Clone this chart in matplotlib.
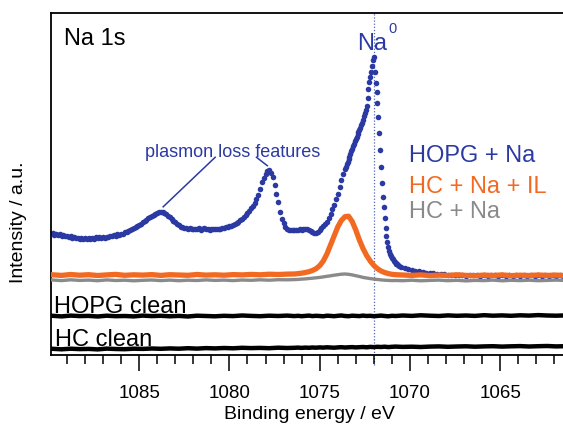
import numpy as np
import matplotlib.pyplot as plt
from matplotlib.ticker import MultipleLocator

plt.rcParams['font.family'] = ['Liberation Sans', 'DejaVu Sans']

# HOPG + Na: four stretches of the energy grid, (first eV, step eV, intensities)
blue_a_start, blue_a_step = 1089.8, 0.1
blue_a = [121.6, 120.4, 121.1, 119.8, 120.6, 119.2, 120.1, 118.7, 119.5, 118.2,
          118.9, 117.4, 118.3, 116.6, 117.5, 116.1, 117.0, 115.9, 116.8, 116.3,
          117.4, 116.2, 117.1, 116.5, 117.9, 116.7, 117.6, 116.9, 118.2, 117.3,
          118.4, 117.8, 119.2, 118.6, 119.7, 119.3, 120.6, 120.2, 121.3, 121.5,
          122.7, 123.2, 124.1, 125.0, 126.1]

blue_b_start, blue_b_step = 1085.3, 0.1
blue_b = [127.2, 128.0, 129.1, 130.0, 131.4, 132.6, 134.3, 135.2, 136.8, 137.9,
          139.0, 140.4, 141.2, 142.0, 142.9, 143.5, 143.1, 142.2, 141.0, 139.4,
          137.8, 136.0, 134.1, 132.6, 131.0, 129.6, 128.3, 127.6, 127.0, 126.8,
          126.5, 126.9, 126.0, 125.6, 126.4, 125.8, 126.6, 125.5, 126.0, 126.7,
          125.6, 126.2, 125.4, 126.3, 125.7, 126.5, 125.9, 126.2, 126.0, 126.8,
          127.2, 127.7, 128.4, 128.9, 129.4, 130.0, 131.2, 132.1, 133.4, 134.6,
          136.2, 138.0, 140.0, 142.0, 144.3, 146.6, 149.0, 152.5, 156.0, 160.0,
          166.5, 173.5, 177.5, 181.0, 184.0, 185.3, 182.5, 178.0, 170.0, 161.0,
          153.0, 142.7, 136.5, 132.0, 128.5, 126.2, 125.4, 125.0, 125.2, 124.6,
          125.4, 125.0, 125.8, 125.3, 126.1, 125.6, 126.0, 124.8, 123.6, 122.8,
          122.2, 122.4, 123.5, 125.0, 126.8, 128.6, 130.8, 133.2, 136.8, 141.0,
          145.8, 150.5, 155.6, 161.0, 168.0, 175.5, 181.0, 186.0]

blue_c_start, blue_c_step = 1073.55, 0.05
blue_c = [188.5, 191.0, 193.5, 196.0, 198.5, 201.5, 204.0, 206.5, 209.0, 211.5,
          213.8, 216.0, 218.5, 220.8, 223.0, 225.0, 227.2, 229.8, 232.5, 235.5,
          238.8, 242.0, 245.5, 249.5, 257.0, 266.5, 273.0, 278.0, 283.0, 289.0,
          295.5, 298.5, 283.0, 272.0, 263.0, 252.0, 238.0, 222.0, 205.0, 188.0,
          172.0, 158.0, 148.0, 137.0, 127.0, 119.0, 113.0, 108.0, 104.0, 101.0,
          99.0, 97.5, 96.0, 94.5, 93.5, 92.5, 91.5, 90.8, 90.0, 89.5]

blue_d_start, blue_d_step = 1070.5, 0.2
blue_d = [88.5, 87.2, 86.0, 85.2, 84.3, 83.6, 82.9, 82.4, 82.0, 81.6,
          81.0, 80.6, 80.9, 80.1, 80.4, 79.8, 80.3, 79.9, 79.5, 80.1,
          79.7, 80.2, 79.5, 79.9, 79.3, 79.8, 80.1, 79.4, 79.8, 79.3,
          79.9, 79.5, 80.0, 79.4, 79.7, 79.2, 79.8, 79.5, 79.9, 79.3,
          79.6, 79.2, 79.8, 79.5, 79.7, 79.2, 79.6]

# energies shared by the line spectra
line_e = [1089.8, 1089.3, 1088.8, 1088.3, 1087.8, 1087.3, 1086.8, 1086.3, 1085.8,
          1085.3, 1084.8, 1084.3, 1083.8, 1083.3, 1082.8, 1082.3, 1081.8, 1081.3,
          1080.8, 1080.3, 1079.8, 1079.3, 1078.8, 1078.3, 1077.8, 1077.3, 1076.8,
          1076.4, 1076.2, 1076.0, 1075.8, 1075.6, 1075.4, 1075.2, 1075.0, 1074.8,
          1074.6, 1074.4, 1074.2, 1074.0, 1073.8, 1073.6, 1073.4, 1073.2, 1073.0,
          1072.8, 1072.6, 1072.4, 1072.2, 1072.0, 1071.8, 1071.6, 1071.4, 1071.2,
          1071.0, 1070.8,
          1070.4, 1069.9, 1069.4, 1068.9, 1068.4, 1067.9, 1067.4, 1066.9, 1066.4,
          1065.9, 1065.4, 1064.9, 1064.4, 1063.9, 1063.4, 1062.9, 1062.4, 1061.9,
          1061.4]

orange_v = [80.2, 79.6, 80.5, 79.8, 80.3, 79.5, 80.1, 80.6, 79.7,
            80.2, 79.9, 80.4, 79.6, 80.3, 80.0, 79.7, 80.5, 79.9,
            80.2, 79.8, 80.4, 80.1, 80.6, 80.2, 80.8, 80.5, 80.9,
            81.0, 81.4, 81.8, 82.5, 83.3, 84.5, 86.3, 89.3, 94.0,
            101.0, 110.0, 119.0, 128.0, 134.5, 138.3, 138.8, 133.5, 125.0,
            115.0, 106.5, 99.5, 94.0, 89.5, 86.3, 84.0, 82.5, 81.4,
            80.7, 80.3,
            80.0, 79.6, 80.1, 79.4, 79.9, 79.5, 80.2, 79.6, 79.3,
            79.9, 79.5, 80.1, 79.4, 79.8, 79.5, 80.0, 79.6, 79.9,
            79.4]

gray_v = [75.0, 74.4, 75.2, 74.6, 74.9, 74.3, 75.1, 74.5, 74.8,
          74.2, 74.7, 75.0, 74.4, 74.9, 74.3, 74.8, 74.5, 75.1,
          74.6, 74.9, 74.4, 75.0, 74.7, 75.2, 74.8, 75.3, 75.2,
          75.4, 75.6, 75.9, 76.1, 76.5, 76.8, 77.2, 77.6, 78.1,
          78.7, 79.2, 79.8, 80.3, 80.8, 81.0, 80.7, 80.1, 79.3,
          78.5, 77.6, 77.0, 76.4, 75.9, 75.5, 75.1, 74.8, 74.6,
          74.4, 74.5,
          74.3, 74.8, 74.2, 74.6, 74.9, 74.3, 74.7, 74.1, 74.6,
          74.4, 74.9, 74.2, 74.7, 74.4, 74.8, 74.3, 74.6, 74.9,
          74.5]

hopg_clean_v = [39.2, 38.6, 39.4, 38.9, 39.1, 38.5, 39.3, 38.8, 39.0, 38.6, 39.4, 38.9, 39.2, 38.7, 39.1,
                38.5, 39.3, 39.0, 38.7, 39.2, 38.9, 39.5, 39.1, 38.8, 39.3, 39.0, 39.4, 38.9, 39.2, 38.8,
                39.1, 39.4, 38.9, 39.2, 39.0, 38.7, 39.3, 39.1, 38.8, 39.2, 39.5, 39.0, 38.8, 39.3, 39.1,
                38.9, 39.4, 39.0, 39.2, 38.8, 39.1, 39.4, 39.0, 38.7, 39.2, 39.0, 39.5, 39.1, 39.7, 39.3,
                39.0, 39.6, 39.2, 39.5, 39.1, 39.8, 39.3, 39.6, 39.2, 39.7, 39.4, 39.9, 39.5, 39.3, 39.6]

hc_clean_v = [6.2, 5.7, 6.3, 5.9, 6.1, 5.6, 6.4, 6.0, 5.8, 6.3, 6.1, 6.5, 6.2, 6.6, 6.3,
              6.8, 6.4, 6.9, 6.6, 7.0, 6.7, 7.2, 6.9, 7.1, 6.8, 7.3, 7.0, 7.2, 7.4, 7.1,
              7.4, 7.2, 7.5, 7.3, 7.6, 7.4, 7.7, 7.5, 7.3, 7.6, 7.8, 7.5, 7.7, 7.9, 7.6,
              7.8, 8.0, 7.7, 8.1, 7.9, 8.2, 8.0, 8.3, 7.9, 8.2, 8.4, 8.1, 8.3, 8.0, 8.4,
              8.6, 8.2, 8.5, 8.7, 8.3, 8.6, 8.8, 8.4, 8.7, 8.9, 8.5, 8.8, 9.0, 8.6, 8.8]

na0_energy = 1072.0

blue = '#2b3aa3'
orange = '#f26a22'
gray = '#8a8a8a'


def grid(start, step, vals):
    return start - step * np.arange(len(vals))


blue_e = np.concatenate([grid(blue_a_start, blue_a_step, blue_a),
                         grid(blue_b_start, blue_b_step, blue_b),
                         grid(blue_c_start, blue_c_step, blue_c),
                         grid(blue_d_start, blue_d_step, blue_d)])
blue_v = np.concatenate([blue_a, blue_b, blue_c, blue_d])

fig = plt.figure(figsize=(5.63, 4.27), dpi=100)
ax = fig.add_axes([50.7 / 563, 71.5 / 427, 516.3 / 563, 341.5 / 427])

ax.plot(blue_e, blue_v, 'o', ms=4.0, mew=0, color=blue, zorder=2)
ax.plot(line_e, gray_v, color=gray, lw=2.4, zorder=3)
ax.plot(line_e, orange_v, color=orange, lw=3.8, zorder=4)
ax.plot(line_e, hopg_clean_v, color='black', lw=3.2, zorder=3)
ax.plot(line_e, hc_clean_v, color='black', lw=3.2, zorder=3)

ax.axvline(na0_energy, ymin=-0.03, ymax=1, clip_on=False, color='#5565b5',
           lw=0.9, ls=(0, (1, 1.5)), zorder=1)

ax.set_xlim(1089.9, 1061.3)
ax.set_ylim(0.5, 342)
ax.xaxis.set_major_locator(MultipleLocator(5))
ax.xaxis.set_minor_locator(MultipleLocator(1))
ax.tick_params(axis='x', which='major', direction='out', length=11.5, width=1.1,
               labelsize=13.5, pad=10)
ax.tick_params(axis='x', which='minor', direction='out', length=6.5, width=1.1)
ax.set_yticks([])
for s in ax.spines.values():
    s.set_linewidth(1.3)

ax.text(1089.14, 311, 'Na 1s', fontsize=17, ha='left', va='baseline')
ax.text(1072.94, 306, 'Na', fontsize=17, color=blue, ha='left', va='baseline')
ax.text(1071.17, 323, '0', fontsize=10.5, color=blue, ha='left', va='baseline')

ax.text(1070.06, 194, 'HOPG + Na', fontsize=17, color=blue, ha='left', va='baseline')
ax.text(1070.06, 163, 'HC + Na + IL', fontsize=17, color=orange, ha='left', va='baseline')
ax.text(1070.06, 138, 'HC + Na', fontsize=17, color=gray, ha='left', va='baseline')

ax.text(1079.84, 199, 'plasmon loss features', fontsize=13, color=blue,
        ha='center', va='baseline')
ax.plot([1083.67, 1080.79], [148.2, 197.7], color=blue, lw=1.1)
ax.plot([1078.5, 1077.9], [197.7, 189.3], color=blue, lw=1.1)

ax.text(1089.73, 43, 'HOPG clean', fontsize=17, ha='left', va='baseline')
ax.text(1089.67, 10, 'HC clean', fontsize=17, ha='left', va='baseline')

fig.text(309 / 563, 8 / 427, 'Binding energy / eV', fontsize=14,
         ha='center', va='baseline')
fig.text(19 / 563, 1 - 222 / 427, 'Intensity / a.u.', fontsize=14,
         rotation=90, ha='center', va='center')

fig.savefig('out.png', dpi=100)
